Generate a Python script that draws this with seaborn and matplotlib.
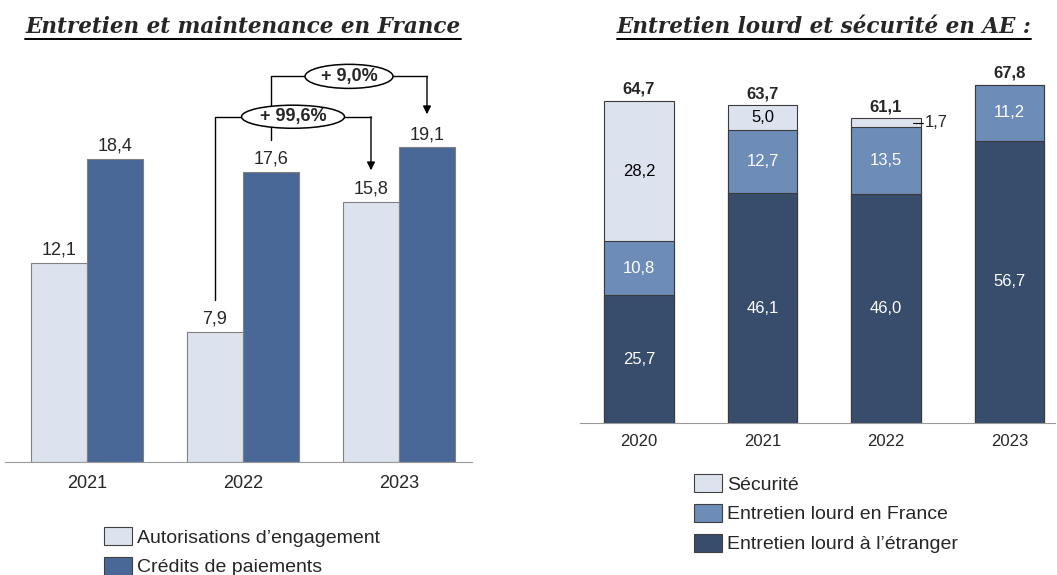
import matplotlib
matplotlib.use('Agg')
import matplotlib.pyplot as plt
import seaborn as sns
import numpy as np
import pandas as pd
from matplotlib.patches import Ellipse, Patch
from matplotlib.lines import Line2D

# left chart data
yearsLeft = ['2021', '2022', '2023']
aeValues = [12.1, 7.9, 15.8]
cpValues = [18.4, 17.6, 19.1]
seriesLeft = ['Autorisations d’engagement', 'Crédits de paiements']
growthLabels = ['+ 99,6%', '+ 9,0%']

# right chart data
yearsRight = ['2020', '2021', '2022', '2023']
securite = [28.2, 5.0, 1.7, 0.0]
lourdFrance = [10.8, 12.7, 13.5, 11.2]
lourdEtranger = [25.7, 46.1, 46.0, 56.7]
totals = [64.7, 63.7, 61.1, 67.8]
seriesRight = ['Sécurité', 'Entretien lourd en France', 'Entretien lourd à l’étranger']

aeColor = '#dce3ee'
cpColor = '#4a6897'
lightColor = '#dde3ee'
midColor = '#6d8cb8'
darkColor = '#384c6c'

sns.set_style('white')
plt.rcParams['font.family'] = ['Liberation Sans', 'DejaVu Sans']

W, H = 1057, 575
fig = plt.figure(figsize=(W / 100, H / 100), dpi=100)


def axRect(x0, x1, yTop, yBottom):
    return [x0 / W, 1 - yBottom / H, (x1 - x0) / W, (yBottom - yTop) / H]


def fmt(v):
    return f'{v:.1f}'.replace('.', ',')


# ---- left: Entretien et maintenance en France
dfLeft = pd.DataFrame({
    'year': yearsLeft * 2,
    'value': aeValues + cpValues,
    'series': [seriesLeft[0]] * 3 + [seriesLeft[1]] * 3,
})
axL = fig.add_axes(axRect(5, 472, 50, 462))
groupWidth = 0.718
sns.barplot(data=dfLeft, x='year', y='value', hue='series', hue_order=seriesLeft,
            palette=[aeColor, cpColor], width=groupWidth, edgecolor='#808080',
            linewidth=0.8, saturation=1, legend=False, ax=axL)
axL.set_ylim(0, 25)
axL.set_xlim(-0.526, 2.468)
for cont in axL.containers:
    axL.bar_label(cont, labels=[fmt(b.get_height()) for b in cont], padding=3, fontsize=13)

off = groupWidth / 4
xAe = np.arange(3) - off
xCp = np.arange(3) + off

# + 99,6% bracket : AE 2022 -> AE 2023
yA = 20.95
axL.plot([xAe[1], xAe[1], xAe[2]], [aeValues[1] + 1.9, yA, yA], color='black', lw=1, clip_on=False)
axL.annotate('', xy=(xAe[2], aeValues[2] + 1.9), xytext=(xAe[2], yA),
             arrowprops=dict(arrowstyle='-|>', color='black', lw=1, shrinkA=0, shrinkB=0,
                             mutation_scale=12), annotation_clip=False)
# + 9,0% bracket : CP 2022 -> CP 2023
yB = 23.4
axL.plot([xCp[1], xCp[1], xCp[2]], [cpValues[1] + 1.95, yB, yB], color='black', lw=1, clip_on=False)
axL.annotate('', xy=(xCp[2], cpValues[2] + 2.0), xytext=(xCp[2], yB),
             arrowprops=dict(arrowstyle='-|>', color='black', lw=1, shrinkA=0, shrinkB=0,
                             mutation_scale=12), annotation_clip=False)

for (cx, cy, ew, eh), lab in zip([((xAe[1] + xAe[2]) / 2, yA, 0.66, 1.4),
                                  ((xCp[1] + xCp[2]) / 2, yB, 0.564, 1.46)], growthLabels):
    axL.add_patch(Ellipse((cx, cy), ew, eh, facecolor='white', edgecolor='black',
                          lw=1.1, zorder=5, clip_on=False))
    axL.text(cx, cy, lab, ha='center', va='center', fontsize=13, fontweight='bold', zorder=6)

axL.set_xlabel('')
axL.set_ylabel('')
axL.set_yticks([])
sns.despine(ax=axL, left=True)
axL.spines['bottom'].set_color('#999999')
axL.tick_params(axis='x', length=0, labelsize=13, pad=9)

# ---- right: Entretien lourd et sécurité en AE
stack = np.vstack([lourdEtranger, lourdFrance, securite])
cum = stack.cumsum(axis=0)
layerColors = [darkColor, midColor, lightColor]
axR = fig.add_axes(axRect(580, 1055, 65, 423))
barWidth = 0.56
for level in [2, 1, 0]:
    sns.barplot(x=yearsRight, y=cum[level], color=layerColors[level], width=barWidth,
                edgecolor='#3a3a3a', linewidth=0.8, saturation=1, ax=axR)
axR.set_ylim(0, 71.9)
axR.set_xlim(-0.478, 3.368)

textColors = ['white', 'white', 'black']
for level in range(3):
    for i in range(len(yearsRight)):
        v = stack[level][i]
        if level == 2 and v < 3:
            continue
        mid = cum[level][i] - v / 2
        axR.text(i, mid, fmt(v), ha='center', va='center', fontsize=12, color=textColors[level])

# small Sécurité value 2022 outside the bar
i = 2
yMid = cum[2][i] - securite[i] / 2
axR.plot([i + barWidth / 2 - 0.06, i + barWidth / 2 + 0.02], [yMid, yMid], color='black', lw=0.8)
axR.text(i + barWidth / 2 + 0.035, yMid, fmt(securite[i]), ha='left', va='center', fontsize=12)

for i, t in enumerate(totals):
    axR.annotate(fmt(t), xy=(i, cum[2][i]), xytext=(0, 3), textcoords='offset points',
                 ha='center', va='bottom', fontsize=12, fontweight='bold')

axR.set_xlabel('')
axR.set_ylabel('')
axR.set_yticks([])
sns.despine(ax=axR, left=True)
axR.spines['bottom'].set_color('#999999')
axR.tick_params(axis='x', length=0, labelsize=12, pad=8)

# ---- legends
handlesL = [Patch(facecolor=c, edgecolor='#404040', lw=0.8) for c in [aeColor, cpColor]]
fig.legend(handlesL, seriesLeft, loc='upper left', bbox_to_anchor=(104 / W, 1 - 527 / H),
           frameon=False, fontsize=14, handlelength=1.45, handleheight=1.05,
           handletextpad=0.25, labelspacing=0.52, borderpad=0, borderaxespad=0)
handlesR = [Patch(facecolor=c, edgecolor='#404040', lw=0.8) for c in [lightColor, midColor, darkColor]]
fig.legend(handlesR, seriesRight, loc='upper left', bbox_to_anchor=(694 / W, 1 - 474 / H),
           frameon=False, fontsize=14, handlelength=1.45, handleheight=1.05,
           handletextpad=0.25, labelspacing=0.52, borderpad=0, borderaxespad=0)

# ---- titles with underline
titles = [('Entretien et maintenance en France', 243), ('Entretien lourd et sécurité en AE :', 824)]
titleTexts = []
for txt, cx in titles:
    titleTexts.append(fig.text(cx / W, 1 - 27 / H, txt, ha='center', va='center',
                               family='DejaVu Serif', style='italic', fontweight='bold',
                               fontsize=15.5))
fig.canvas.draw()
renderer = fig.canvas.get_renderer()
for t in titleTexts:
    bb = t.get_window_extent(renderer)
    yLine = (bb.y0 - 1) / H
    fig.add_artist(Line2D([bb.x0 / W, bb.x1 / W], [yLine, yLine], color='black', lw=1.4))

fig.savefig('out.png', dpi=100)
